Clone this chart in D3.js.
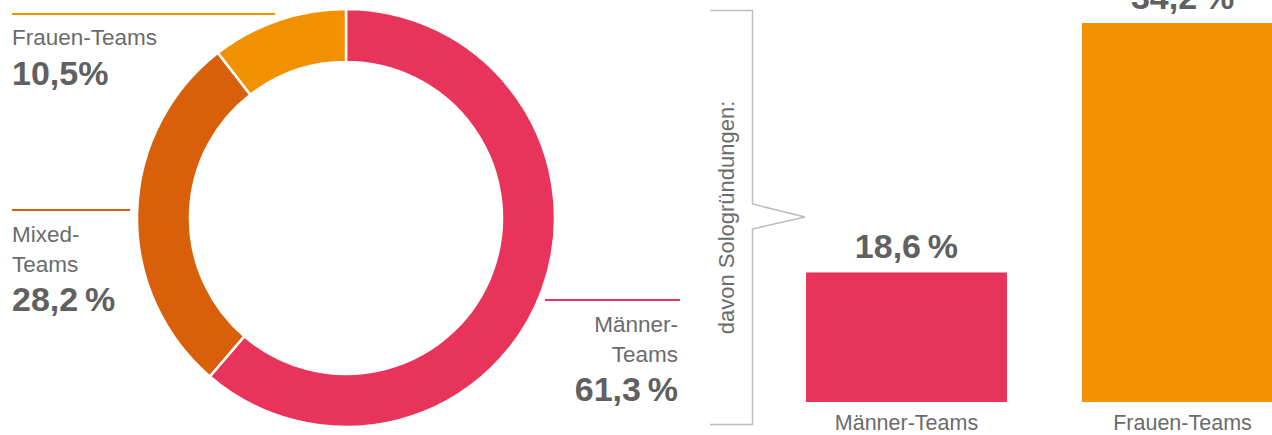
<!DOCTYPE html>
<html>
<head>
<meta charset="utf-8">
<script src="https://cdn.jsdelivr.net/npm/d3@7"></script>
<style>
  html, body { margin: 0; padding: 0; background: #fff; }
  svg { display: block; font-family: "Liberation Sans", Arial, Helvetica, sans-serif; }
</style>
</head>
<body>
<svg id="chart" width="1272" height="435"></svg>
<script>
'use strict';

// donut: share of teams
var teamTypes = ['Männer-Teams', 'Mixed-Teams', 'Frauen-Teams'];
var teamShares = [61.3, 28.2, 10.5];
var teamLabelLines = [['Männer-', 'Teams'], ['Mixed-', 'Teams'], ['Frauen-Teams']];
var teamShareLabels = ['61,3\u2009%', '28,2\u2009%', '10,5%'];

// bars: solo foundings
var soloCategories = ['Männer-Teams', 'Frauen-Teams'];
var soloValues = [18.6, 34.2];
var soloLabels = ['18,6\u2009%', '34,2\u2009%'];

var colors = ['#e8345b', '#d9600a', '#f29100'];
var barColors = ['#e8345b', '#f29100'];
var textColor = '#6b6b6b';
var boldColor = '#606060';

var svg = d3.select('#chart');

// ---- donut ----
var cx = 346, cy = 218, outerR = 209, innerR = 156;
var pie = d3.pie().sort(null).value(function (d) { return d; });
var arc = d3.arc().innerRadius(innerR).outerRadius(outerR);
var donut = svg.append('g').attr('transform', 'translate(' + cx + ',' + cy + ')');
donut.selectAll('path').data(pie(teamShares)).enter()
    .append('path')
    .attr('d', arc)
    .attr('fill', function (d, i) { return colors[i]; })
    .attr('stroke', '#fff')
    .attr('stroke-width', 2.5);

// label layout per slice: rule line and text block
var labelLayout = [
    { x1: 545, x2: 680, y: 300, anchor: 'end', tx: 678, ty: 332 },
    { x1: 12, x2: 130, y: 210, anchor: 'start', tx: 12, ty: 242 },
    { x1: 12, x2: 275, y: 14, anchor: 'start', tx: 12, ty: 45 }
];
teamTypes.forEach(function (name, i) {
    var L = labelLayout[i];
    svg.append('line')
        .attr('x1', L.x1).attr('x2', L.x2).attr('y1', L.y).attr('y2', L.y)
        .attr('stroke', colors[i]).attr('stroke-width', 2);
    var g = svg.append('g').attr('text-anchor', L.anchor);
    teamLabelLines[i].forEach(function (line, j) {
        g.append('text')
            .attr('x', L.tx).attr('y', L.ty + j * 29.5)
            .attr('font-size', 22.5).attr('fill', textColor)
            .text(line);
    });
    g.append('text')
        .attr('x', L.tx).attr('y', L.ty + (teamLabelLines[i].length - 1) * 29.5 + 39.5)
        .attr('font-size', 34).attr('font-weight', 'bold').attr('fill', boldColor)
        .text(teamShareLabels[i]);
});

// ---- bracket ----
var bracket = d3.path();
bracket.moveTo(710, 10.5);
bracket.lineTo(752.5, 10.5);
bracket.lineTo(752.5, 204);
bracket.lineTo(805, 217);
bracket.lineTo(752.5, 229);
bracket.lineTo(752.5, 424.5);
bracket.lineTo(710, 424.5);
svg.append('path').attr('d', bracket.toString())
    .attr('fill', 'none').attr('stroke', '#bdbdbd').attr('stroke-width', 1.5);

svg.append('text')
    .attr('transform', 'translate(734,217.5) rotate(-90)')
    .attr('text-anchor', 'middle')
    .attr('font-size', 22).attr('fill', textColor)
    .text('davon Sologründungen:');

// ---- bars ----
var x = d3.scaleBand().domain(soloCategories).range([806, 1283]).paddingInner(0.272).paddingOuter(0);
var y = d3.scaleLinear().domain([10.5, 34.2]).range([402, 23]);

var bars = svg.append('g');
bars.selectAll('rect').data(soloValues).enter()
    .append('rect')
    .attr('x', function (d, i) { return x(soloCategories[i]); })
    .attr('width', x.bandwidth())
    .attr('y', function (d) { return y(d); })
    .attr('height', function (d) { return y(10.5) - y(d); })
    .attr('fill', function (d, i) { return barColors[i]; });

bars.selectAll('text.val').data(soloValues).enter()
    .append('text').attr('class', 'val')
    .attr('x', function (d, i) { return x(soloCategories[i]) + x.bandwidth() / 2; })
    .attr('y', function (d) { return y(d) - 14; })
    .attr('text-anchor', 'middle')
    .attr('font-size', 34).attr('font-weight', 'bold').attr('fill', boldColor)
    .text(function (d, i) { return soloLabels[i]; });

bars.selectAll('text.cat').data(soloCategories).enter()
    .append('text').attr('class', 'cat')
    .attr('x', function (d) { return x(d) + x.bandwidth() / 2; })
    .attr('y', 430)
    .attr('text-anchor', 'middle')
    .attr('font-size', 21.5).attr('fill', textColor)
    .text(function (d) { return d; });
</script>
</body>
</html>
